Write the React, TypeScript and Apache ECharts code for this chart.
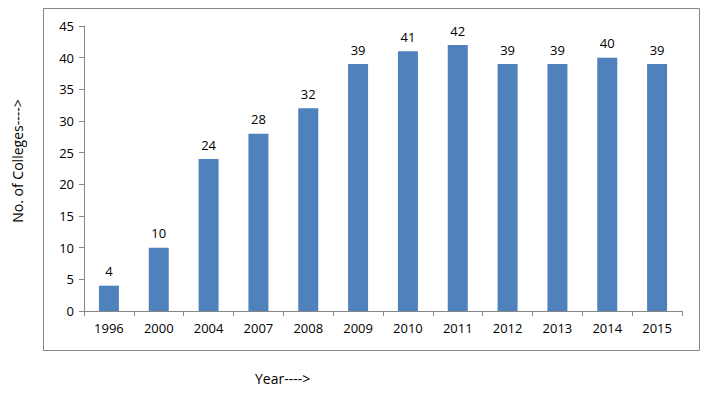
import React, { useEffect, useRef } from "react";
import * as echarts from "echarts";

const years = ["1996", "2000", "2004", "2007", "2008", "2009", "2010", "2011", "2012", "2013", "2014", "2015"];
const colleges = [4, 10, 24, 28, 32, 39, 41, 42, 39, 39, 40, 39];
const yAxisTitle = "No. of Colleges---->";
const xAxisTitle = "Year---->";

const FONT = "'Open Sans', 'Liberation Sans', sans-serif";

export default function App() {
  const ref = useRef<HTMLDivElement>(null);
  useEffect(() => {
    if (!ref.current) return;
    const chart = echarts.init(ref.current, null, { renderer: "svg" });
    chart.setOption({
      animation: false,
      backgroundColor: "#ffffff",
      grid: { left: 84, top: 26, right: 36, bottom: 87, containLabel: false },
      graphic: [
        {
          type: "rect",
          shape: { x: 43.5, y: 8.5, width: 656, height: 342 },
          style: { fill: "none", stroke: "#868686", lineWidth: 1 },
          silent: true,
        },
        {
          type: "text",
          x: 17,
          y: 161,
          rotation: Math.PI / 2,
          style: {
            text: yAxisTitle,
            font: `14px ${FONT}`,
            fill: "#000",
            align: "center",
            verticalAlign: "middle",
          },
        },
        {
          type: "text",
          x: 255,
          y: 378,
          style: {
            text: xAxisTitle,
            font: `14px ${FONT}`,
            fill: "#000",
            align: "left",
            verticalAlign: "middle",
          },
        },
      ],
      xAxis: {
        type: "category",
        data: years,
        axisLine: { lineStyle: { color: "#868686" } },
        axisTick: { show: true, length: 5, alignWithLabel: false, lineStyle: { color: "#868686" } },
        axisLabel: { color: "#000", fontSize: 13, fontFamily: FONT, margin: 10 },
      },
      yAxis: {
        type: "value",
        min: 0,
        max: 45,
        interval: 5,
        splitLine: { show: false },
        axisLine: { show: true, lineStyle: { color: "#868686" } },
        axisTick: { show: true, length: 5, lineStyle: { color: "#868686" } },
        axisLabel: { color: "#000", fontSize: 13, fontFamily: FONT, margin: 10 },
      },
      series: [
        {
          type: "bar",
          data: colleges,
          barWidth: 20,
          itemStyle: { color: "#4f81bd" },
          label: {
            show: true,
            position: "top",
            distance: 8,
            color: "#000",
            fontSize: 13,
            fontFamily: FONT,
          },
        },
      ],
    });
    return () => chart.dispose();
  }, []);
  return <div ref={ref} style={{ width: 718, height: 398, position: "absolute", left: 0, top: 0 }} />;
}
